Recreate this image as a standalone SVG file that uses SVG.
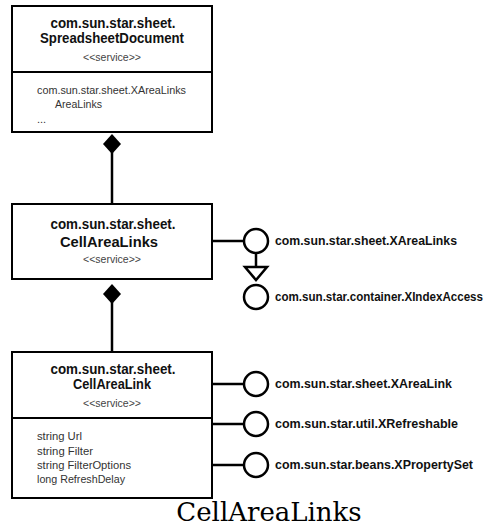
<svg xmlns="http://www.w3.org/2000/svg" width="498" height="527" viewBox="0 0 498 527">
<style>
.box{fill:#fff;stroke:#000;stroke-width:2}
.sep{stroke:#000;stroke-width:2}
.t{font-family:"Liberation Sans",Arial,sans-serif;font-size:14px;font-weight:bold;fill:#111;text-anchor:middle}
.s{font-family:"Liberation Sans",Arial,sans-serif;font-size:10px;fill:#444;text-anchor:middle}
.a{font-family:"Liberation Sans",Arial,sans-serif;font-size:11px;fill:#333}
.l{font-family:"Liberation Sans",Arial,sans-serif;font-size:12.5px;font-weight:bold;fill:#111}
.c{stroke:#000;stroke-width:2.5;fill:none}
.lol{fill:#fff;stroke:#000;stroke-width:2.5}
.cap{font-family:"DejaVu Serif",serif;font-size:26px;fill:#000;text-anchor:middle}
</style>
<g id="connectors">
<line class="c" x1="112" y1="152" x2="112" y2="204"/>
<polygon points="112,134 121,144 112,154 103,144" fill="#000"/>
<line class="c" x1="112" y1="302" x2="112" y2="352"/>
<polygon points="112,284 121,294 112,304 103,294" fill="#000"/>
<line class="c" x1="212" y1="241" x2="244" y2="241"/>
<line class="c" x1="256" y1="253" x2="256" y2="267"/>
<polygon points="245,267 267,267 256,280" fill="#fff" stroke="#000" stroke-width="2.5"/>
<line class="c" x1="212" y1="384" x2="244" y2="384"/>
<line class="c" x1="212" y1="424" x2="244" y2="424"/>
<line class="c" x1="212" y1="465" x2="244" y2="465"/>
</g>
<g id="SpreadsheetDocument">
<rect class="box" x="12" y="6" width="200" height="126"/>
<line class="sep" x1="12" y1="72" x2="212" y2="72"/>
<text class="t" x="113" y="28" textLength="125" lengthAdjust="spacingAndGlyphs">com.sun.star.sheet.</text>
<text class="t" x="112" y="43" textLength="144" lengthAdjust="spacingAndGlyphs">SpreadsheetDocument</text>
<text class="s" x="112" y="61" textLength="58" lengthAdjust="spacingAndGlyphs">&lt;&lt;service&gt;&gt;</text>
<text class="a" x="37" y="94" textLength="149" lengthAdjust="spacingAndGlyphs">com.sun.star.sheet.XAreaLinks</text>
<text class="a" x="55" y="108" textLength="47" lengthAdjust="spacingAndGlyphs">AreaLinks</text>
<text class="a" x="37" y="123">...</text>
</g>
<g id="CellAreaLinks">
<rect class="box" x="12" y="204" width="200" height="75"/>
<text class="t" x="113" y="229" textLength="125" lengthAdjust="spacingAndGlyphs">com.sun.star.sheet.</text>
<text class="t" x="109" y="247" textLength="98" lengthAdjust="spacingAndGlyphs">CellAreaLinks</text>
<text class="s" x="112" y="263" textLength="58" lengthAdjust="spacingAndGlyphs">&lt;&lt;service&gt;&gt;</text>
</g>
<g id="XAreaLinks">
<circle class="lol" cx="256" cy="241" r="12"/>
<text class="l" x="275" y="245" textLength="182" lengthAdjust="spacingAndGlyphs">com.sun.star.sheet.XAreaLinks</text>
</g>
<g id="XIndexAccess">
<circle class="lol" cx="256" cy="297" r="12"/>
<text class="l" x="275" y="301" textLength="208" lengthAdjust="spacingAndGlyphs">com.sun.star.container.XIndexAccess</text>
</g>
<g id="CellAreaLink">
<rect class="box" x="12" y="352" width="200" height="146"/>
<line class="sep" x1="12" y1="418" x2="212" y2="418"/>
<text class="t" x="113" y="374" textLength="125" lengthAdjust="spacingAndGlyphs">com.sun.star.sheet.</text>
<text class="t" x="112" y="389" textLength="78" lengthAdjust="spacingAndGlyphs">CellAreaLink</text>
<text class="s" x="112" y="407" textLength="58" lengthAdjust="spacingAndGlyphs">&lt;&lt;service&gt;&gt;</text>
<text class="a" x="37" y="440" textLength="45" lengthAdjust="spacingAndGlyphs">string Url</text>
<text class="a" x="37" y="455" textLength="56" lengthAdjust="spacingAndGlyphs">string Filter</text>
<text class="a" x="37" y="469" textLength="94" lengthAdjust="spacingAndGlyphs">string FilterOptions</text>
<text class="a" x="37" y="483" textLength="88" lengthAdjust="spacingAndGlyphs">long RefreshDelay</text>
</g>
<g id="XAreaLink">
<circle class="lol" cx="256" cy="384" r="12"/>
<text class="l" x="275" y="388" textLength="177" lengthAdjust="spacingAndGlyphs">com.sun.star.sheet.XAreaLink</text>
</g>
<g id="XRefreshable">
<circle class="lol" cx="256" cy="424" r="12"/>
<text class="l" x="275" y="428" textLength="183" lengthAdjust="spacingAndGlyphs">com.sun.star.util.XRefreshable</text>
</g>
<g id="XPropertySet">
<circle class="lol" cx="256" cy="465" r="12"/>
<text class="l" x="275" y="469" textLength="198" lengthAdjust="spacingAndGlyphs">com.sun.star.beans.XPropertySet</text>
</g>
<text class="cap" x="269" y="521">CellAreaLinks</text>
</svg>
